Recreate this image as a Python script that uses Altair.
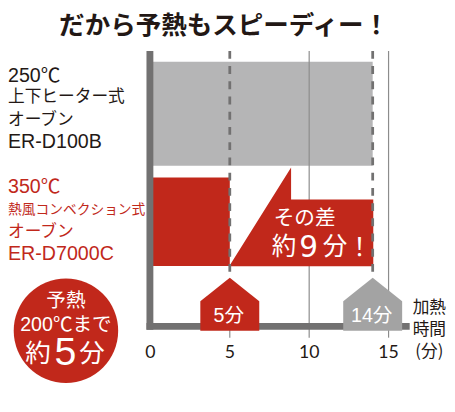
import altair as alt
import pandas as pd

# ---------------- data ----------------
title_text = "だから予熱もスピーディー！"
gray_oven_lines = ["250℃", "上下ヒーター式", "オーブン", "ER-D100B"]
red_oven_lines = ["350℃", "熱風コンベクション式", "オーブン", "ER-D7000C"]
ovens = ["ER-D100B", "ER-D7000C"]
preheat_minutes = [14, 5]
marker_labels = ["14分", "5分"]
x_ticks = [0, 5, 10, 15]
grid_minutes = [10, 15]
diff_head = "その差"
diff_parts = ["約", "9", "分", "！"]
circle_lines = ["予熱", "200℃まで"]
circle_parts = ["約", "5", "分"]
axis_title_lines = ["加熱", "時間", "(分)"]

# ---------------- styles ----------------
RED = "#c1281b"
GRAY_BAR = "#b5b5b6"
AXIS = "#727171"
MARK_GRAY = "#a3a3a3"
GRID = "#8c8c8c"
INK = "#231815"
JP = "Noto Sans CJK JP"
MIX = "Liberation Sans, Noto Sans CJK JP, sans-serif"
WIDE = "DejaVu Sans, Noto Sans CJK JP, sans-serif"

xs = alt.Scale(domain=[0, 15], range=[145, 387.5], nice=False, zero=False)

bars = pd.DataFrame({"oven": ovens, "start": [0, 0], "end": preheat_minutes})
markers = pd.DataFrame({"m": preheat_minutes, "label": marker_labels,
                        "color": [MARK_GRAY, RED]})
grid = pd.DataFrame({"m": grid_minutes})
dashed = pd.DataFrame({"m": preheat_minutes})
ticks = pd.DataFrame({"m": x_ticks, "label": [str(v) for v in x_ticks]})
callout = pd.DataFrame({"mid": [(min(preheat_minutes) + max(preheat_minutes)) / 2]})


def X(field):
    return alt.X(field, scale=xs, axis=None)


def txt(t, x, y, size, color=INK, font=JP, weight="normal", align="center",
        baseline="middle"):
    return alt.Chart(pd.DataFrame({"t": [t]})).mark_text(
        font=font, fontSize=size, color=color, fontWeight=weight,
        align=align, baseline=baseline
    ).encode(text="t:N", x=alt.value(x), y=alt.value(y))


layers = []

# gray bar (250℃ oven)
layers.append(alt.Chart(bars[bars.oven == ovens[0]]).mark_rect(color=GRAY_BAR).encode(
    x=X("start:Q"), x2="end:Q", y=alt.value(51), y2=alt.value(157)))

# thin solid grid lines
layers.append(alt.Chart(grid).mark_rule(color=GRID, strokeWidth=1.2).encode(
    x=X("m:Q"), y=alt.value(40), y2=alt.value(320)))

# tick marks below axis
layers.append(alt.Chart(ticks[ticks.m > 0]).mark_rule(color=GRID, strokeWidth=1.2).encode(
    x=X("m:Q"), y=alt.value(320), y2=alt.value(332)))

# red bar (350℃ oven)
layers.append(alt.Chart(bars[bars.oven == ovens[1]]).mark_rect(color=RED).encode(
    x=X("start:Q"), x2="end:Q", y=alt.value(169), y2=alt.value(259)))

# callout shape
CALLOUT = "M-1,0.686L-0.141,-0.686L-0.141,-0.241L1,-0.241L1,0.686Z"
layers.append(alt.Chart(callout).mark_point(
    shape=CALLOUT, size=146.7 ** 2, filled=True, opacity=1, color=RED, strokeWidth=0
).encode(x=X("mid:Q"), y=alt.value(209)))

# dashed lines at preheat times
layers.append(alt.Chart(dashed).mark_rule(color=AXIS, strokeWidth=2.8, strokeDash=[8, 7.5]).encode(
    x=X("m:Q"), y=alt.value(40), y2=alt.value(320)))

# thick axis lines
layers.append(alt.Chart(grid.head(1)).mark_rule(color=AXIS, strokeWidth=7).encode(
    x=alt.value(144.5), y=alt.value(40), y2=alt.value(324)))
layers.append(alt.Chart(grid.head(1)).mark_rule(color=AXIS, strokeWidth=7).encode(
    x=alt.value(141), x2=alt.value(409), y=alt.value(320.5)))

# tick labels
layers.append(alt.Chart(ticks).mark_text(
    font="Lato", fontSize=18, color=INK, baseline="middle", align="center"
).encode(x=X("m:Q"), y=alt.value(348), text="label:N"))

# pentagon markers
PENT = "M0,-0.9L1,-0.1L1,0.9L-1,0.9L-1,-0.1Z"
layers.append(alt.Chart(markers).mark_point(
    shape=PENT, size=3600, filled=True, opacity=1, strokeWidth=0
).encode(x=X("m:Q"), y=alt.value(298), color=alt.Color("color:N", scale=None)))
layers.append(alt.Chart(markers).mark_text(
    font=MIX, fontSize=20, color="white", baseline="middle", align="center", dx=-1
).encode(x=X("m:Q"), y=alt.value(310), text="label:N"))

# callout texts
layers.append(txt(diff_head, 302, 211, 21, color="white"))
for t, x, y, s, f in zip(diff_parts, [281, 306, 333, 358], [248, 250, 248, 249],
                         [25, 30, 25, 25], [JP, WIDE, JP, MIX]):
    layers.append(txt(t, x, y, s, color="white", font=f, baseline="alphabetic"))

# circle
layers.append(alt.Chart(grid.head(1)).mark_point(
    shape="circle", size=3.14159 * 60 ** 2, filled=True, opacity=1, color=RED, strokeWidth=0
).encode(x=alt.value(59), y=alt.value(325)))
layers.append(txt(circle_lines[0], 59, 295, 20, color="white"))
layers.append(txt(circle_lines[1], 59, 319, 20, color="white", font=MIX))
for t, x, y, s in zip(circle_parts, [30.5, 58.5, 85.5], [357, 360, 357], [26, 40, 26]):
    layers.append(txt(t, x, y, s, color="white", font=MIX, baseline="alphabetic"))

# title
layers.append(txt(title_text, 220, 15, 26, weight="bold"))

# oven labels
for t, y, s in zip(gray_oven_lines, [66, 87, 110, 133], [20, 17, 17, 20]):
    layers.append(txt(t, 0, y, s, font=MIX, align="left"))
for t, y, s in zip(red_oven_lines, [179, 202, 225, 247], [20, 14, 17, 20]):
    layers.append(txt(t, 0, y, s, color=RED, font=MIX, align="left"))

# axis title
for t, y in zip(axis_title_lines, [302, 324, 347]):
    layers.append(txt(t, 429, y, 17))

chart = alt.layer(*layers).properties(
    width=447, height=320,
    autosize=alt.AutoSizeParams(type="none"),
    padding={"left": 0, "top": 0, "right": 0, "bottom": 84},
    background="white",
).configure_view(stroke=None)

chart.save("out.html", embed_options={"renderer": "svg", "actions": False})
